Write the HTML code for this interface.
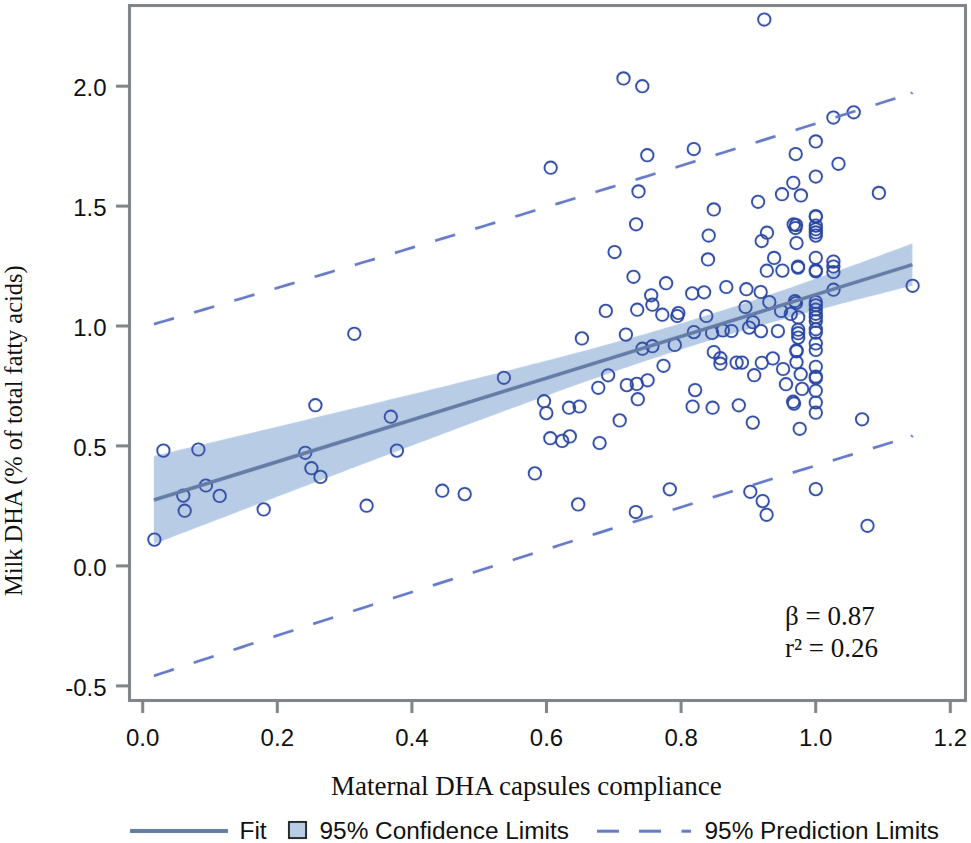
<!DOCTYPE html>
<html><head><meta charset="utf-8"><style>
html,body{margin:0;padding:0;background:#fff;}
body{width:971px;height:843px;overflow:hidden;position:relative;}
svg{position:absolute;left:0;top:0;}
.sans{font-family:"Liberation Sans",sans-serif;}
.serif{font-family:"Liberation Serif",serif;}
</style></head><body>
<svg width="971" height="843" viewBox="0 0 971 843">
<defs><filter id="sb" x="0" y="0" width="971" height="843" filterUnits="userSpaceOnUse"><feConvolveMatrix order="3" kernelMatrix="0.00276 0.04704 0.00276 0.04704 0.80077 0.04704 0.00276 0.04704 0.00276" edgeMode="duplicate"/></filter></defs>
<g filter="url(#sb)">
<polygon points="153.90,455.92 160.22,454.43 166.54,452.93 172.86,451.44 179.18,449.94 185.50,448.45 191.82,446.95 198.15,445.45 204.47,443.95 210.79,442.46 217.11,440.96 223.43,439.46 229.75,437.96 236.07,436.45 242.39,434.95 248.71,433.45 255.03,431.95 261.35,430.44 267.68,428.94 274.00,427.43 280.32,425.92 286.64,424.41 292.96,422.90 299.28,421.39 305.60,419.88 311.92,418.37 318.24,416.86 324.56,415.34 330.88,413.83 337.20,412.31 343.52,410.79 349.85,409.27 356.17,407.75 362.49,406.22 368.81,404.70 375.13,403.17 381.45,401.64 387.77,400.11 394.09,398.58 400.41,397.05 406.73,395.51 413.05,393.97 419.38,392.43 425.70,390.89 432.02,389.34 438.34,387.79 444.66,386.24 450.98,384.68 457.30,383.12 463.62,381.56 469.94,380.00 476.26,378.43 482.58,376.85 488.90,375.28 495.23,373.69 501.55,372.11 507.87,370.51 514.19,368.92 520.51,367.31 526.83,365.70 533.15,364.09 539.47,362.46 545.79,360.84 552.11,359.20 558.43,357.55 564.75,355.90 571.08,354.24 577.40,352.57 583.72,350.89 590.04,349.19 596.36,347.49 602.68,345.78 609.00,344.05 615.32,342.31 621.64,340.56 627.96,338.79 634.28,337.01 640.60,335.22 646.92,333.40 653.25,331.58 659.57,329.73 665.89,327.87 672.21,325.99 678.53,324.10 684.85,322.18 691.17,320.25 697.49,318.30 703.81,316.33 710.13,314.34 716.45,312.33 722.77,310.31 729.10,308.27 735.42,306.21 741.74,304.13 748.06,302.04 754.38,299.93 760.70,297.80 767.02,295.66 773.34,293.51 779.66,291.34 785.98,289.15 792.30,286.96 798.62,284.75 804.95,282.53 811.27,280.30 817.59,278.06 823.91,275.81 830.23,273.55 836.55,271.28 842.87,269.01 849.19,266.72 855.51,264.43 861.83,262.13 868.15,259.82 874.48,257.51 880.80,255.19 887.12,252.86 893.44,250.53 899.76,248.20 906.08,245.86 912.40,243.51 912.40,285.69 906.08,287.27 899.76,288.85 893.44,290.44 887.12,292.03 880.80,293.63 874.48,295.23 868.15,296.84 861.83,298.46 855.51,300.08 849.19,301.71 842.87,303.35 836.55,305.00 830.23,306.65 823.91,308.32 817.59,309.99 811.27,311.67 804.95,313.36 798.62,315.07 792.30,316.78 785.98,318.51 779.66,320.25 773.34,322.01 767.02,323.78 760.70,325.56 754.38,327.36 748.06,329.17 741.74,331.00 735.42,332.85 729.10,334.71 722.77,336.59 716.45,338.49 710.13,340.41 703.81,342.34 697.49,344.30 691.17,346.27 684.85,348.26 678.53,350.27 672.21,352.29 665.89,354.34 659.57,356.40 653.25,358.48 646.92,360.58 640.60,362.69 634.28,364.82 627.96,366.96 621.64,369.12 615.32,371.29 609.00,373.47 602.68,375.67 596.36,377.88 590.04,380.10 583.72,382.33 577.40,384.57 571.08,386.82 564.75,389.08 558.43,391.35 552.11,393.63 545.79,395.92 539.47,398.21 533.15,400.51 526.83,402.82 520.51,405.13 514.19,407.45 507.87,409.78 501.55,412.11 495.23,414.45 488.90,416.79 482.58,419.13 476.26,421.48 469.94,423.84 463.62,426.19 457.30,428.56 450.98,430.92 444.66,433.29 438.34,435.66 432.02,438.03 425.70,440.41 419.38,442.79 413.05,445.17 406.73,447.56 400.41,449.94 394.09,452.33 387.77,454.72 381.45,457.12 375.13,459.51 368.81,461.91 362.49,464.31 356.17,466.71 349.85,469.11 343.52,471.51 337.20,473.91 330.88,476.32 324.56,478.73 318.24,481.14 311.92,483.55 305.60,485.96 299.28,488.37 292.96,490.78 286.64,493.20 280.32,495.61 274.00,498.03 267.68,500.44 261.35,502.86 255.03,505.28 248.71,507.70 242.39,510.12 236.07,512.54 229.75,514.96 223.43,517.39 217.11,519.81 210.79,522.23 204.47,524.66 198.15,527.08 191.82,529.51 185.50,531.94 179.18,534.36 172.86,536.79 166.54,539.22 160.22,541.65 153.90,544.08" fill="#b8cce6"/>
<g fill="none" stroke="#2744a2" stroke-width="1.85">
<circle cx="154.4" cy="539.6" r="6.2"/>
<circle cx="163.4" cy="450.6" r="6.2"/>
<circle cx="198.4" cy="449.5" r="6.2"/>
<circle cx="205.9" cy="485.5" r="6.2"/>
<circle cx="183.3" cy="495.6" r="6.2"/>
<circle cx="219.7" cy="495.9" r="6.2"/>
<circle cx="184.7" cy="510.7" r="6.2"/>
<circle cx="263.7" cy="509.4" r="6.2"/>
<circle cx="354.3" cy="333.8" r="6.2"/>
<circle cx="315.4" cy="405.2" r="6.2"/>
<circle cx="390.8" cy="416.7" r="6.2"/>
<circle cx="305.3" cy="452.8" r="6.2"/>
<circle cx="311.4" cy="468.2" r="6.2"/>
<circle cx="320.5" cy="476.9" r="6.2"/>
<circle cx="396.9" cy="450.6" r="6.2"/>
<circle cx="366.6" cy="505.7" r="6.2"/>
<circle cx="503.9" cy="377.8" r="6.2"/>
<circle cx="442.3" cy="490.7" r="6.2"/>
<circle cx="464.7" cy="494.1" r="6.2"/>
<circle cx="534.9" cy="473.4" r="6.2"/>
<circle cx="550.7" cy="167.7" r="6.2"/>
<circle cx="608.1" cy="375.3" r="6.2"/>
<circle cx="598.3" cy="387.8" r="6.2"/>
<circle cx="626.8" cy="385.1" r="6.2"/>
<circle cx="636.8" cy="383.9" r="6.2"/>
<circle cx="637.8" cy="399.2" r="6.2"/>
<circle cx="647.6" cy="380.3" r="6.2"/>
<circle cx="544.0" cy="401.2" r="6.2"/>
<circle cx="546.3" cy="413.1" r="6.2"/>
<circle cx="569.0" cy="407.7" r="6.2"/>
<circle cx="579.6" cy="406.5" r="6.2"/>
<circle cx="619.7" cy="420.4" r="6.2"/>
<circle cx="550.3" cy="438.2" r="6.2"/>
<circle cx="562.2" cy="440.9" r="6.2"/>
<circle cx="569.8" cy="436.4" r="6.2"/>
<circle cx="599.6" cy="443.0" r="6.2"/>
<circle cx="578.2" cy="504.4" r="6.2"/>
<circle cx="635.8" cy="512.0" r="6.2"/>
<circle cx="614.6" cy="252.0" r="6.2"/>
<circle cx="633.5" cy="276.8" r="6.2"/>
<circle cx="605.8" cy="310.9" r="6.2"/>
<circle cx="637.2" cy="309.7" r="6.2"/>
<circle cx="581.9" cy="338.4" r="6.2"/>
<circle cx="625.9" cy="334.6" r="6.2"/>
<circle cx="708.0" cy="259.4" r="6.2"/>
<circle cx="666.1" cy="283.2" r="6.2"/>
<circle cx="651.2" cy="295.3" r="6.2"/>
<circle cx="652.4" cy="304.7" r="6.2"/>
<circle cx="662.3" cy="314.7" r="6.2"/>
<circle cx="678.4" cy="313.0" r="6.2"/>
<circle cx="677.3" cy="316.0" r="6.2"/>
<circle cx="692.2" cy="293.4" r="6.2"/>
<circle cx="704.1" cy="292.3" r="6.2"/>
<circle cx="726.3" cy="287.0" r="6.2"/>
<circle cx="706.3" cy="316.0" r="6.2"/>
<circle cx="693.9" cy="332.1" r="6.2"/>
<circle cx="712.1" cy="332.9" r="6.2"/>
<circle cx="722.9" cy="330.5" r="6.2"/>
<circle cx="731.5" cy="331.0" r="6.2"/>
<circle cx="642.4" cy="348.7" r="6.2"/>
<circle cx="652.4" cy="346.2" r="6.2"/>
<circle cx="674.8" cy="344.9" r="6.2"/>
<circle cx="713.8" cy="352.0" r="6.2"/>
<circle cx="720.4" cy="358.2" r="6.2"/>
<circle cx="720.4" cy="363.7" r="6.2"/>
<circle cx="736.6" cy="362.6" r="6.2"/>
<circle cx="742.0" cy="362.6" r="6.2"/>
<circle cx="663.5" cy="365.8" r="6.2"/>
<circle cx="695.1" cy="390.1" r="6.2"/>
<circle cx="692.6" cy="406.5" r="6.2"/>
<circle cx="712.6" cy="407.7" r="6.2"/>
<circle cx="738.8" cy="405.3" r="6.2"/>
<circle cx="669.8" cy="489.3" r="6.2"/>
<circle cx="647.3" cy="155.2" r="6.2"/>
<circle cx="693.8" cy="149.0" r="6.2"/>
<circle cx="638.5" cy="191.4" r="6.2"/>
<circle cx="636.1" cy="224.3" r="6.2"/>
<circle cx="713.8" cy="209.4" r="6.2"/>
<circle cx="708.7" cy="235.5" r="6.2"/>
<circle cx="623.5" cy="78.4" r="6.2"/>
<circle cx="642.3" cy="86.2" r="6.2"/>
<circle cx="764.3" cy="19.5" r="6.2"/>
<circle cx="833.4" cy="117.5" r="6.2"/>
<circle cx="853.7" cy="112.3" r="6.2"/>
<circle cx="815.8" cy="141.4" r="6.2"/>
<circle cx="795.7" cy="154.0" r="6.2"/>
<circle cx="838.5" cy="163.8" r="6.2"/>
<circle cx="815.8" cy="176.5" r="6.2"/>
<circle cx="793.3" cy="182.8" r="6.2"/>
<circle cx="782.0" cy="194.2" r="6.2"/>
<circle cx="800.9" cy="195.4" r="6.2"/>
<circle cx="758.1" cy="201.8" r="6.2"/>
<circle cx="767.0" cy="232.7" r="6.2"/>
<circle cx="761.7" cy="241.0" r="6.2"/>
<circle cx="793.7" cy="224.4" r="6.2"/>
<circle cx="796.1" cy="225.0" r="6.2"/>
<circle cx="795.5" cy="228.0" r="6.2"/>
<circle cx="796.5" cy="243.0" r="6.2"/>
<circle cx="774.1" cy="257.9" r="6.2"/>
<circle cx="766.8" cy="270.7" r="6.2"/>
<circle cx="782.4" cy="270.6" r="6.2"/>
<circle cx="798.0" cy="266.6" r="6.2"/>
<circle cx="798.0" cy="267.7" r="6.2"/>
<circle cx="833.4" cy="261.6" r="6.2"/>
<circle cx="833.4" cy="266.5" r="6.2"/>
<circle cx="833.4" cy="272.0" r="6.2"/>
<circle cx="833.5" cy="289.7" r="6.2"/>
<circle cx="878.9" cy="192.9" r="6.2"/>
<circle cx="912.6" cy="285.8" r="6.2"/>
<circle cx="746.4" cy="289.2" r="6.2"/>
<circle cx="760.7" cy="292.0" r="6.2"/>
<circle cx="769.3" cy="302.0" r="6.2"/>
<circle cx="745.5" cy="307.0" r="6.2"/>
<circle cx="781.1" cy="311.0" r="6.2"/>
<circle cx="753.0" cy="322.2" r="6.2"/>
<circle cx="749.1" cy="327.6" r="6.2"/>
<circle cx="761.0" cy="331.1" r="6.2"/>
<circle cx="777.9" cy="331.1" r="6.2"/>
<circle cx="772.8" cy="358.4" r="6.2"/>
<circle cx="783.1" cy="369.0" r="6.2"/>
<circle cx="761.8" cy="362.8" r="6.2"/>
<circle cx="800.7" cy="374.2" r="6.2"/>
<circle cx="802.1" cy="388.9" r="6.2"/>
<circle cx="786.0" cy="384.2" r="6.2"/>
<circle cx="754.2" cy="375.2" r="6.2"/>
<circle cx="752.8" cy="422.6" r="6.2"/>
<circle cx="793.1" cy="401.7" r="6.2"/>
<circle cx="794.0" cy="403.6" r="6.2"/>
<circle cx="799.7" cy="428.8" r="6.2"/>
<circle cx="750.3" cy="491.8" r="6.2"/>
<circle cx="762.7" cy="501.1" r="6.2"/>
<circle cx="766.6" cy="514.8" r="6.2"/>
<circle cx="815.8" cy="489.1" r="6.2"/>
<circle cx="862.1" cy="419.3" r="6.2"/>
<circle cx="867.5" cy="525.8" r="6.2"/>
<circle cx="815.8" cy="302.0" r="6.2"/>
<circle cx="815.8" cy="305.3" r="6.2"/>
<circle cx="815.8" cy="309.5" r="6.2"/>
<circle cx="815.8" cy="313.8" r="6.2"/>
<circle cx="815.8" cy="317.2" r="6.2"/>
<circle cx="815.8" cy="321.0" r="6.2"/>
<circle cx="815.8" cy="329.2" r="6.2"/>
<circle cx="815.8" cy="332.6" r="6.2"/>
<circle cx="815.8" cy="343.5" r="6.2"/>
<circle cx="815.8" cy="350.0" r="6.2"/>
<circle cx="815.8" cy="366.8" r="6.2"/>
<circle cx="815.8" cy="376.5" r="6.2"/>
<circle cx="815.8" cy="378.0" r="6.2"/>
<circle cx="815.8" cy="390.8" r="6.2"/>
<circle cx="815.8" cy="402.5" r="6.2"/>
<circle cx="815.8" cy="412.7" r="6.2"/>
<circle cx="795.0" cy="301.0" r="6.2"/>
<circle cx="796.0" cy="303.0" r="6.2"/>
<circle cx="790.8" cy="313.9" r="6.2"/>
<circle cx="798.2" cy="317.4" r="6.2"/>
<circle cx="798.2" cy="329.7" r="6.2"/>
<circle cx="798.2" cy="333.2" r="6.2"/>
<circle cx="798.2" cy="337.6" r="6.2"/>
<circle cx="796.5" cy="350.3" r="6.2"/>
<circle cx="796.5" cy="351.3" r="6.2"/>
<circle cx="796.5" cy="362.2" r="6.2"/>
<circle cx="815.8" cy="216.0" r="6.2"/>
<circle cx="815.8" cy="216.8" r="6.2"/>
<circle cx="815.8" cy="225.6" r="6.2"/>
<circle cx="815.8" cy="229.2" r="6.2"/>
<circle cx="815.8" cy="232.4" r="6.2"/>
<circle cx="815.8" cy="235.6" r="6.2"/>
<circle cx="815.8" cy="257.8" r="6.2"/>
<circle cx="815.8" cy="270.3" r="6.2"/>
<circle cx="815.8" cy="271.5" r="6.2"/>
</g>
<line x1="153.9" y1="500.0" x2="912.4" y2="264.6" stroke="#637ba5" stroke-width="3.6"/>
<g fill="none" stroke="#6478c6" stroke-width="2.7" stroke-dasharray="20.95 20.95">
<path d="M153.90,324.14 L160.22,322.29 L166.54,320.45 L172.86,318.60 L179.18,316.75 L185.50,314.90 L191.82,313.05 L198.15,311.19 L204.47,309.34 L210.79,307.48 L217.11,305.63 L223.43,303.77 L229.75,301.91 L236.07,300.05 L242.39,298.19 L248.71,296.32 L255.03,294.46 L261.35,292.59 L267.68,290.73 L274.00,288.86 L280.32,286.99 L286.64,285.12 L292.96,283.24 L299.28,281.37 L305.60,279.49 L311.92,277.62 L318.24,275.74 L324.56,273.86 L330.88,271.98 L337.20,270.10 L343.52,268.21 L349.85,266.33 L356.17,264.44 L362.49,262.56 L368.81,260.67 L375.13,258.78 L381.45,256.89 L387.77,254.99 L394.09,253.10 L400.41,251.20 L406.73,249.31 L413.05,247.41 L419.38,245.51 L425.70,243.61 L432.02,241.70 L438.34,239.80 L444.66,237.90 L450.98,235.99 L457.30,234.08 L463.62,232.17 L469.94,230.26 L476.26,228.35 L482.58,226.44 L488.90,224.52 L495.23,222.60 L501.55,220.69 L507.87,218.77 L514.19,216.85 L520.51,214.93 L526.83,213.00 L533.15,211.08 L539.47,209.15 L545.79,207.23 L552.11,205.30 L558.43,203.37 L564.75,201.44 L571.08,199.50 L577.40,197.57 L583.72,195.63 L590.04,193.70 L596.36,191.76 L602.68,189.82 L609.00,187.88 L615.32,185.93 L621.64,183.99 L627.96,182.04 L634.28,180.10 L640.60,178.15 L646.92,176.20 L653.25,174.25 L659.57,172.30 L665.89,170.34 L672.21,168.39 L678.53,166.43 L684.85,164.47 L691.17,162.51 L697.49,160.55 L703.81,158.59 L710.13,156.63 L716.45,154.66 L722.77,152.69 L729.10,150.73 L735.42,148.76 L741.74,146.79 L748.06,144.81 L754.38,142.84 L760.70,140.87 L767.02,138.89 L773.34,136.91 L779.66,134.93 L785.98,132.95 L792.30,130.97 L798.62,128.99 L804.95,127.00 L811.27,125.02 L817.59,123.03 L823.91,121.04 L830.23,119.05 L836.55,117.06 L842.87,115.06 L849.19,113.07 L855.51,111.07 L861.83,109.08 L868.15,107.08 L874.48,105.08 L880.80,103.08 L887.12,101.07 L893.44,99.07 L899.76,97.06 L906.08,95.06 L912.40,93.05"/>
<path d="M153.90,675.86 L160.22,673.78 L166.54,671.71 L172.86,669.63 L179.18,667.56 L185.50,665.48 L191.82,663.41 L198.15,661.34 L204.47,659.27 L210.79,657.21 L217.11,655.14 L223.43,653.07 L229.75,651.01 L236.07,648.95 L242.39,646.89 L248.71,644.83 L255.03,642.77 L261.35,640.71 L267.68,638.65 L274.00,636.60 L280.32,634.55 L286.64,632.49 L292.96,630.44 L299.28,628.39 L305.60,626.35 L311.92,624.30 L318.24,622.25 L324.56,620.21 L330.88,618.17 L337.20,616.13 L343.52,614.09 L349.85,612.05 L356.17,610.01 L362.49,607.97 L368.81,605.94 L375.13,603.91 L381.45,601.87 L387.77,599.84 L394.09,597.81 L400.41,595.79 L406.73,593.76 L413.05,591.74 L419.38,589.71 L425.70,587.69 L432.02,585.67 L438.34,583.65 L444.66,581.63 L450.98,579.61 L457.30,577.60 L463.62,575.58 L469.94,573.57 L476.26,571.56 L482.58,569.55 L488.90,567.54 L495.23,565.54 L501.55,563.53 L507.87,561.53 L514.19,559.52 L520.51,557.52 L526.83,555.52 L533.15,553.52 L539.47,551.52 L545.79,549.53 L552.11,547.53 L558.43,545.54 L564.75,543.55 L571.08,541.56 L577.40,539.57 L583.72,537.58 L590.04,535.59 L596.36,533.61 L602.68,531.63 L609.00,529.64 L615.32,527.66 L621.64,525.68 L627.96,523.71 L634.28,521.73 L640.60,519.75 L646.92,517.78 L653.25,515.81 L659.57,513.84 L665.89,511.87 L672.21,509.90 L678.53,507.93 L684.85,505.97 L691.17,504.00 L697.49,502.04 L703.81,500.08 L710.13,498.12 L716.45,496.16 L722.77,494.21 L729.10,492.25 L735.42,490.30 L741.74,488.34 L748.06,486.39 L754.38,484.44 L760.70,482.49 L767.02,480.55 L773.34,478.60 L779.66,476.66 L785.98,474.71 L792.30,472.77 L798.62,470.83 L804.95,468.89 L811.27,466.96 L817.59,465.02 L823.91,463.09 L830.23,461.15 L836.55,459.22 L842.87,457.29 L849.19,455.36 L855.51,453.44 L861.83,451.51 L868.15,449.59 L874.48,447.66 L880.80,445.74 L887.12,443.82 L893.44,441.90 L899.76,439.98 L906.08,438.07 L912.40,436.15"/>
</g>
<g stroke="#6478c6" stroke-width="1.7" stroke-linecap="butt">
<line x1="910.6" y1="92.2" x2="912.9" y2="93.9"/>
<line x1="910.8" y1="435.3" x2="913.1" y2="437.0"/>
</g>
<rect x="129.5" y="5.5" width="836" height="695" fill="none" stroke="#7e8286" stroke-width="3"/>
<g stroke="#7e8286" stroke-width="3">
<line x1="116" y1="86.2" x2="129" y2="86.2"/>
<line x1="116" y1="206.1" x2="129" y2="206.1"/>
<line x1="116" y1="326.0" x2="129" y2="326.0"/>
<line x1="116" y1="445.9" x2="129" y2="445.9"/>
<line x1="116" y1="565.9" x2="129" y2="565.9"/>
<line x1="116" y1="685.9" x2="129" y2="685.9"/>
<line x1="142.7" y1="701" x2="142.7" y2="713"/>
<line x1="277.3" y1="701" x2="277.3" y2="713"/>
<line x1="411.9" y1="701" x2="411.9" y2="713"/>
<line x1="546.5" y1="701" x2="546.5" y2="713"/>
<line x1="681.1" y1="701" x2="681.1" y2="713"/>
<line x1="815.7" y1="701" x2="815.7" y2="713"/>
<line x1="950.3" y1="701" x2="950.3" y2="713"/>
</g>
<line x1="130" y1="831" x2="228" y2="831" stroke="#637ba5" stroke-width="4"/>
<rect x="289" y="822" width="17" height="16" fill="#b8cce6" stroke="#1a1a1a" stroke-width="2"/>
<g stroke="#6478c6" stroke-width="3"><line x1="597" y1="831.2" x2="619" y2="831.2"/><line x1="639" y1="831.2" x2="661" y2="831.2"/><line x1="681.5" y1="831.2" x2="691" y2="831.2"/></g>
</g>
<g class="sans" font-size="24" fill="#111111">
<text x="106.6" y="96.0" text-anchor="end">2.0</text>
<text x="106.6" y="215.9" text-anchor="end">1.5</text>
<text x="106.6" y="335.8" text-anchor="end">1.0</text>
<text x="106.6" y="455.7" text-anchor="end">0.5</text>
<text x="106.6" y="575.7" text-anchor="end">0.0</text>
<text x="106.6" y="695.7" text-anchor="end">-0.5</text>
<text x="142.7" y="745.5" text-anchor="middle">0.0</text>
<text x="277.3" y="745.5" text-anchor="middle">0.2</text>
<text x="411.9" y="745.5" text-anchor="middle">0.4</text>
<text x="546.5" y="745.5" text-anchor="middle">0.6</text>
<text x="681.1" y="745.5" text-anchor="middle">0.8</text>
<text x="815.7" y="745.5" text-anchor="middle">1.0</text>
<text x="950.3" y="745.5" text-anchor="middle">1.2</text>
</g>
<g class="serif" font-size="27" fill="#111111">
<text x="785" y="625">β = 0.87</text>
<text x="785" y="657">r² = 0.26</text>
<text x="331" y="795">Maternal DHA capsules compliance</text>
</g>
<text class="serif" font-size="24.4" fill="#111111" transform="translate(22.3,596) rotate(-90)">Milk DHA (% of total fatty acids)</text>
<g class="sans" font-size="24.4" fill="#111111">
<text x="239.5" y="839">Fit</text>
<text x="319.5" y="839">95% Confidence Limits</text>
<text x="704.5" y="839">95% Prediction Limits</text>
</g>
</svg>
</body></html>
